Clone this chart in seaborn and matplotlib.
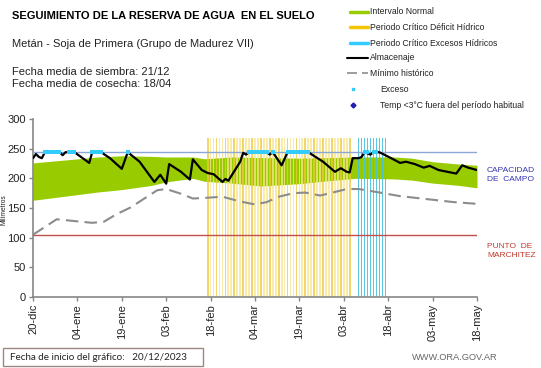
import matplotlib
matplotlib.use('Agg')
import matplotlib.pyplot as plt
from matplotlib.lines import Line2D
from matplotlib.patches import Rectangle
import seaborn as sns

W, H = 541, 368

# dias contados desde el 20-dic-2023
alm_days = [0, 1, 2, 3, 4, 9, 10, 11, 14, 19, 20, 23, 26, 30, 32, 36, 41, 43, 45, 46,
            50, 53, 54, 57, 59, 61, 64, 65, 66, 70, 71, 72, 73, 79, 80, 81, 84, 86, 93,
            98, 102, 104, 106, 107, 108, 110, 111, 112, 114, 115, 117, 121, 124, 126,
            129, 132, 134, 137, 140, 143, 145, 147, 150]
alm_vals = [234, 241, 236, 234, 244, 244, 239, 244, 244, 226, 244, 244, 234, 216, 244, 228,
            194, 206, 191, 224, 211, 198, 232, 214, 209, 207, 194, 199, 196, 228, 243, 240,
            244, 244, 240, 244, 222, 244, 244, 228, 211, 217, 211, 210, 234, 234, 236, 244,
            240, 244, 244, 234, 226, 228, 224, 218, 221, 214, 211, 208, 222, 218, 214]

min_days = [0, 8, 14, 20, 24, 28, 33, 37, 42, 45, 50, 54, 58, 64, 70, 75, 79, 83, 88, 92,
            97, 102, 106, 110, 116, 124, 133, 142, 150]
min_vals = [105, 131, 128, 125, 127, 139, 151, 164, 180, 182, 174, 166, 167, 169, 161, 156,
            160, 169, 175, 176, 171, 177, 182, 182, 177, 170, 165, 160, 157]

band_days = [0, 11, 22, 30, 40, 45, 54, 58, 67, 77, 90, 100, 109, 122, 128, 135, 144, 150]
band_up = [226, 231, 236, 238, 237, 236, 236, 233, 236, 235, 234, 235, 236, 236, 234, 228, 224, 222]
band_low = [163, 170, 177, 181, 188, 194, 200, 195, 192, 187, 191, 196, 200, 199, 197, 192, 188, 184]

exceso_days = [4, 5, 6, 7, 8, 9, 12, 13, 14, 20, 21, 22, 23, 32, 73, 74, 75, 76, 77, 78, 79,
               81, 86, 87, 88, 89, 90, 91, 92, 93, 112, 113, 115, 116]

deficit_days = list(range(59, 108))
excesos_days = list(range(110, 120))
periodo_alto = 268

capacidad = 244
marchitez = 104

tick_days = [0, 15, 30, 45, 60, 75, 90, 105, 120, 135, 150]
tick_labels = ['20-dic', '04-ene', '19-ene', '03-feb', '18-feb', '04-mar', '19-mar',
               '03-abr', '18-abr', '03-may', '18-may']

sns.set_theme(style='white')
plt.rcParams['font.family'] = ['Liberation Sans', 'DejaVu Sans']


def fx(px):
    return px / W


def fy(py):
    return 1 - py / H


fig = plt.figure(figsize=(W / 100, H / 100), dpi=100)
ax = fig.add_axes([fx(33), fy(297), 444 / W, 178 / H])

ax.fill_between(band_days, band_low, band_up, color='#99CC00', lw=0, zorder=1)
ax.bar(deficit_days, [periodo_alto] * len(deficit_days), width=0.6,
       color=['#F8E68E' if i % 3 else '#F0C93A' for i in range(len(deficit_days))],
       alpha=0.75, lw=0, zorder=2)
ax.bar(excesos_days, [periodo_alto] * len(excesos_days), width=0.4,
       color='#45C3E0', alpha=0.9, lw=0, zorder=2)

ax.axhline(capacidad, color='#8AA7D6', lw=1, zorder=3)
ax.axhline(marchitez, color='#C0504D', lw=1, zorder=3)

sns.lineplot(x=min_days, y=min_vals, ax=ax, color='#8C8C8C', lw=1.5,
             linestyle=(0, (6, 3)), zorder=4)
sns.lineplot(x=alm_days, y=alm_vals, ax=ax, color='black', lw=1.6, zorder=5)
sns.scatterplot(x=exceso_days, y=[capacidad] * len(exceso_days), ax=ax, marker='s', s=7,
                color='#33CCFF', edgecolor='none', zorder=6)

ax.set_xlim(0, 150)
ax.set_ylim(0, 300)
ax.set_xticks(tick_days)
ax.set_xticklabels(tick_labels, rotation=90)
ax.set_yticks(range(0, 301, 50))
sns.despine(ax=ax)
for s in ['left', 'bottom']:
    ax.spines[s].set_color('#868686')
    ax.spines[s].set_linewidth(1.2)
ax.tick_params(axis='both', bottom=True, left=True, length=3, width=1, color='#868686',
               labelsize=8, labelcolor='#222222', pad=2)

fig.text(fx(4), fy(210), 'Milímetros', rotation=90, fontsize=4.8, ha='center', va='center',
         color='#222222')

# titulos
fig.text(fx(12), fy(16), 'SEGUIMIENTO DE LA RESERVA DE AGUA  EN EL SUELO', fontsize=8,
         fontweight='bold', va='center', color='black')
fig.text(fx(12), fy(44), 'Metán - Soja de Primera (Grupo de Madurez VII)', fontsize=8,
         va='center', color='#222222')
fig.text(fx(12), fy(72), 'Fecha media de siembra: 21/12', fontsize=8, va='center', color='#222222')
fig.text(fx(12), fy(84), 'Fecha media de cosecha: 18/04', fontsize=8, va='center', color='#222222')

# leyenda
leg_y = [12, 27, 43, 58, 73, 89, 105]
fig.add_artist(Line2D([fx(350), fx(368)], [fy(leg_y[0])] * 2, color='#99CC00', lw=2.5,
                      transform=fig.transFigure))
fig.add_artist(Line2D([fx(350), fx(368)], [fy(leg_y[1])] * 2, color='#F5C400', lw=2.5,
                      transform=fig.transFigure))
fig.add_artist(Line2D([fx(350), fx(368)], [fy(leg_y[2])] * 2, color='#33CCFF', lw=2.5,
                      transform=fig.transFigure))
fig.add_artist(Line2D([fx(347), fx(368)], [fy(leg_y[3])] * 2, color='black', lw=1.5,
                      transform=fig.transFigure))
fig.add_artist(Line2D([fx(347), fx(368)], [fy(leg_y[4])] * 2, color='#8C8C8C', lw=1.2,
                      linestyle=(0, (6, 3)), transform=fig.transFigure))
fig.add_artist(Line2D([fx(353)], [fy(leg_y[5])], color='#33CCFF', marker='s', ms=2,
                      lw=0, transform=fig.transFigure))
fig.add_artist(Line2D([fx(353)], [fy(leg_y[6])], color='#1F1FB0', marker='D', ms=2.5,
                      lw=0, transform=fig.transFigure))
leg_text = ['Intervalo Normal', 'Periodo Crítico Déficit Hídrico',
            'Periodo Crítico Excesos Hídricos', 'Almacenaje', 'Mínimo histórico',
            'Exceso', 'Temp <3°C fuera del período habitual']
for i, t in enumerate(leg_text):
    x0 = 370 if i < 5 else 380
    fig.text(fx(x0), fy(leg_y[i]), t, fontsize=6.2, va='center', color='#222222')

# etiquetas de referencia
fig.text(fx(487), fy(175), 'CAPACIDAD\nDE  CAMPO', fontsize=6, va='center', color='#3535B5',
         linespacing=1.3)
fig.text(fx(487), fy(251), 'PUNTO  DE\nMARCHITEZ', fontsize=6, va='center', color='#C0392B',
         linespacing=1.3)

# pie
fig.add_artist(Rectangle((fx(3), fy(366)), 200 / W, 18 / H, fill=False, edgecolor='#A08585',
                         lw=1, transform=fig.transFigure))
fig.text(fx(10), fy(357), 'Fecha de inicio del gráfico:   20/12/2023', fontsize=7.1,
         va='center', color='#222222', family=['Lato', 'DejaVu Sans'])
fig.text(fx(412), fy(358), 'WWW.ORA.GOV.AR', fontsize=6.7, va='center', color='#666666')

fig.savefig('out.png', dpi=100)
